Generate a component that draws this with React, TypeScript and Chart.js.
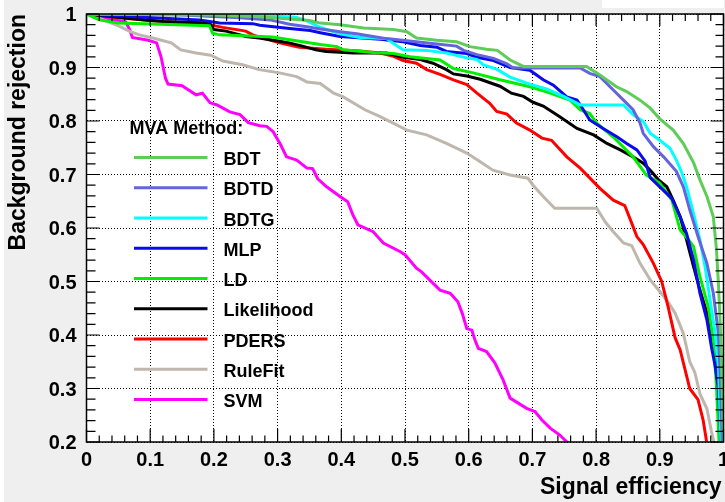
import React, { useEffect, useRef } from "react";
import { Chart, registerables } from "chart.js";

Chart.register(...registerables);

const methods = ["BDT", "BDTD", "BDTG", "MLP", "LD", "Likelihood", "PDERS", "RuleFit", "SVM"];
const colors = ["#5ecd58", "#6464dc", "#00ffff", "#0a0af0", "#00ee00", "#000000", "#ff0000", "#bfb6ae", "#ff00ff"];

// [signal efficiency, background rejection]
const BDT: number[][] = [[0,1],[0.2,0.998],[0.272,0.995],[0.35,0.988],[0.367,0.983],[0.398,0.98],[0.435,0.974],[0.482,0.971],[0.503,0.967],[0.518,0.955],[0.55,0.951],[0.581,0.948],[0.602,0.939],[0.628,0.934],[0.645,0.932],[0.665,0.914],[0.686,0.902],[0.785,0.902],[0.806,0.886],[0.832,0.864],[0.848,0.855],[0.869,0.839],[0.885,0.824],[0.9,0.804],[0.921,0.783],[0.937,0.758],[0.953,0.722],[0.963,0.69],[0.974,0.659],[0.984,0.621],[0.989,0.559],[0.992,0.497],[0.995,0.416],[0.998,0.3],[1,0.2]];
const BDTD: number[][] = [[0,1],[0.15,0.998],[0.241,0.993],[0.288,0.989],[0.319,0.981],[0.346,0.976],[0.367,0.972],[0.398,0.967],[0.424,0.963],[0.445,0.959],[0.471,0.954],[0.503,0.95],[0.55,0.944],[0.581,0.94],[0.592,0.932],[0.613,0.924],[0.639,0.917],[0.66,0.907],[0.67,0.899],[0.775,0.899],[0.79,0.889],[0.806,0.883],[0.827,0.858],[0.843,0.839],[0.858,0.821],[0.869,0.796],[0.874,0.777],[0.89,0.752],[0.906,0.733],[0.926,0.706],[0.937,0.677],[0.947,0.634],[0.96,0.584],[0.974,0.534],[0.984,0.478],[0.992,0.403],[0.995,0.322],[0.998,0.2]];
const BDTG: number[][] = [[0,1],[0.2,1],[0.25,0.998],[0.3,0.996],[0.329,0.994],[0.346,0.987],[0.367,0.975],[0.398,0.963],[0.429,0.956],[0.471,0.954],[0.482,0.945],[0.497,0.933],[0.534,0.932],[0.565,0.927],[0.597,0.918],[0.613,0.915],[0.623,0.905],[0.644,0.897],[0.665,0.882],[0.696,0.869],[0.722,0.86],[0.749,0.846],[0.775,0.83],[0.843,0.83],[0.858,0.812],[0.874,0.799],[0.885,0.777],[0.9,0.764],[0.916,0.749],[0.926,0.727],[0.934,0.705],[0.942,0.677],[0.953,0.627],[0.963,0.578],[0.971,0.528],[0.979,0.465],[0.987,0.403],[0.992,0.341],[0.996,0.2]];
const MLP: number[][] = [[0,1],[0.06,0.996],[0.104,0.993],[0.177,0.989],[0.209,0.983],[0.261,0.982],[0.272,0.979],[0.319,0.973],[0.351,0.969],[0.367,0.965],[0.398,0.958],[0.461,0.953],[0.497,0.948],[0.524,0.941],[0.55,0.938],[0.565,0.93],[0.597,0.926],[0.613,0.919],[0.639,0.913],[0.665,0.9],[0.696,0.895],[0.717,0.877],[0.733,0.867],[0.754,0.845],[0.77,0.839],[0.78,0.821],[0.79,0.802],[0.811,0.786],[0.832,0.771],[0.848,0.758],[0.864,0.746],[0.877,0.725],[0.885,0.694],[0.9,0.677],[0.919,0.655],[0.932,0.621],[0.942,0.59],[0.953,0.54],[0.963,0.478],[0.974,0.428],[0.981,0.378],[0.987,0.341],[0.992,0.3],[0.996,0.2]];
const LD: number[][] = [[0,1],[0.02,0.989],[0.05,0.983],[0.193,0.978],[0.198,0.964],[0.209,0.961],[0.292,0.957],[0.324,0.951],[0.367,0.943],[0.393,0.939],[0.403,0.933],[0.45,0.928],[0.482,0.926],[0.508,0.92],[0.555,0.914],[0.576,0.898],[0.607,0.89],[0.649,0.877],[0.696,0.864],[0.728,0.852],[0.759,0.839],[0.775,0.821],[0.79,0.814],[0.801,0.796],[0.827,0.77],[0.858,0.733],[0.879,0.699],[0.9,0.684],[0.919,0.652],[0.932,0.596],[0.945,0.578],[0.953,0.565],[0.963,0.509],[0.976,0.453],[0.984,0.391],[0.989,0.303],[0.993,0.2]];
const Likelihood: number[][] = [[0,1],[0.05,0.994],[0.093,0.989],[0.12,0.986],[0.193,0.983],[0.2,0.971],[0.219,0.968],[0.25,0.958],[0.271,0.955],[0.303,0.949],[0.318,0.946],[0.339,0.94],[0.36,0.933],[0.376,0.93],[0.419,0.927],[0.471,0.927],[0.497,0.919],[0.524,0.915],[0.544,0.908],[0.565,0.896],[0.576,0.888],[0.597,0.884],[0.618,0.878],[0.649,0.865],[0.667,0.852],[0.686,0.846],[0.701,0.835],[0.717,0.828],[0.743,0.808],[0.77,0.786],[0.796,0.774],[0.817,0.758],[0.838,0.746],[0.858,0.733],[0.874,0.721],[0.885,0.708],[0.898,0.69],[0.911,0.677],[0.921,0.652],[0.932,0.621],[0.942,0.578],[0.953,0.528],[0.963,0.484],[0.974,0.441],[0.981,0.403],[0.987,0.353],[0.992,0.3],[0.996,0.25],[1,0.2]];
const PDERS: number[][] = [[0,1],[0.05,0.993],[0.09,0.989],[0.12,0.986],[0.151,0.983],[0.193,0.98],[0.214,0.975],[0.25,0.968],[0.261,0.961],[0.277,0.955],[0.303,0.946],[0.334,0.938],[0.376,0.934],[0.429,0.931],[0.461,0.927],[0.482,0.921],[0.497,0.913],[0.518,0.908],[0.534,0.896],[0.555,0.887],[0.576,0.877],[0.597,0.868],[0.613,0.852],[0.633,0.833],[0.644,0.818],[0.66,0.813],[0.675,0.796],[0.696,0.783],[0.715,0.768],[0.73,0.764],[0.754,0.733],[0.775,0.712],[0.793,0.69],[0.806,0.674],[0.827,0.652],[0.845,0.642],[0.853,0.618],[0.864,0.584],[0.874,0.569],[0.89,0.534],[0.903,0.5],[0.913,0.453],[0.924,0.395],[0.932,0.372],[0.947,0.3],[0.96,0.279],[0.968,0.241],[0.973,0.204],[0.976,0.18]];
const RuleFit: number[][] = [[0,1],[0.01,0.997],[0.052,0.977],[0.067,0.968],[0.083,0.961],[0.104,0.955],[0.133,0.946],[0.148,0.933],[0.172,0.927],[0.195,0.923],[0.214,0.912],[0.245,0.905],[0.271,0.896],[0.303,0.89],[0.33,0.883],[0.346,0.873],[0.367,0.87],[0.388,0.852],[0.403,0.845],[0.437,0.821],[0.461,0.808],[0.503,0.783],[0.534,0.774],[0.565,0.758],[0.597,0.74],[0.618,0.724],[0.638,0.708],[0.665,0.699],[0.693,0.693],[0.701,0.68],[0.717,0.659],[0.735,0.637],[0.801,0.637],[0.814,0.612],[0.827,0.593],[0.843,0.572],[0.856,0.567],[0.869,0.534],[0.885,0.503],[0.898,0.484],[0.911,0.465],[0.924,0.441],[0.937,0.403],[0.947,0.35],[0.955,0.33],[0.963,0.29],[0.974,0.262],[0.981,0.22],[0.987,0.19]];
const SVM: number[][] = [[0,1],[0.02,0.995],[0.04,0.99],[0.062,0.985],[0.068,0.97],[0.072,0.956],[0.097,0.951],[0.11,0.946],[0.117,0.92],[0.124,0.88],[0.128,0.869],[0.15,0.866],[0.172,0.849],[0.182,0.852],[0.194,0.834],[0.205,0.83],[0.225,0.817],[0.241,0.812],[0.254,0.797],[0.272,0.791],[0.283,0.79],[0.293,0.78],[0.305,0.755],[0.314,0.733],[0.33,0.727],[0.346,0.712],[0.355,0.711],[0.363,0.692],[0.377,0.677],[0.398,0.659],[0.41,0.649],[0.418,0.625],[0.426,0.606],[0.45,0.593],[0.466,0.572],[0.492,0.556],[0.5,0.55],[0.518,0.525],[0.526,0.518],[0.555,0.484],[0.571,0.478],[0.583,0.462],[0.59,0.44],[0.597,0.412],[0.605,0.409],[0.61,0.39],[0.615,0.375],[0.628,0.369],[0.641,0.348],[0.654,0.316],[0.665,0.282],[0.691,0.263],[0.704,0.257],[0.715,0.241],[0.728,0.226],[0.743,0.213],[0.756,0.198],[0.77,0.18]];

const series = [BDT, BDTD, BDTG, MLP, LD, Likelihood, PDERS, RuleFit, SVM];

const xTickValues = [0, 0.1, 0.2, 0.3, 0.4, 0.5, 0.6, 0.7, 0.8, 0.9, 1];
const xTickLabels = ["0", "0.1", "0.2", "0.3", "0.4", "0.5", "0.6", "0.7", "0.8", "0.9", "1"];
const yTickValues = [0.2, 0.3, 0.4, 0.5, 0.6, 0.7, 0.8, 0.9, 1];
const yTickLabels = ["0.2", "0.3", "0.4", "0.5", "0.6", "0.7", "0.8", "0.9", "1"];

const xTitle = "Signal efficiency";
const yTitle = "Background rejection";
const legendHeader = "MVA Method:";

const FONT = "'Liberation Sans', Arial, Helvetica, sans-serif";

const rootStyle = {
  id: "rootStyle",
  beforeDraw(chart: any) {
    const { ctx, chartArea: a, width, height } = chart;
    ctx.save();
    ctx.fillStyle = "#ffffff";
    ctx.fillRect(0, 0, width, height);
    ctx.fillStyle = "#efefef";
    ctx.fillRect(4, 0, width - 4, height);
    ctx.fillStyle = "#ffffff";
    ctx.fillRect(602, 0, width - 603, 8);
    ctx.fillRect(a.left, a.top, a.right - a.left, a.bottom - a.top);
    ctx.restore();
  },
  afterDatasetsDraw(chart: any) {
    const { ctx, chartArea: a } = chart;
    const xs = chart.scales.x;
    const ys = chart.scales.y;
    ctx.save();
    ctx.strokeStyle = "#000";
    ctx.lineWidth = 1.5;
    ctx.strokeRect(a.left, a.top, a.right - a.left, a.bottom - a.top);
    ctx.lineWidth = 1.2;
    ctx.beginPath();
    for (let i = 0; i <= 50; i++) {
      const v = i / 50;
      const px = xs.getPixelForValue(v);
      const major = i % 5 === 0;
      const lb = major ? 13 : 6.5;
      const lt = major ? 12 : 7;
      ctx.moveTo(px, a.bottom);
      ctx.lineTo(px, a.bottom - lb);
      ctx.moveTo(px, a.top);
      ctx.lineTo(px, a.top + lt);
    }
    for (let i = 0; i <= 40; i++) {
      const v = 0.2 + i / 50;
      const py = ys.getPixelForValue(v);
      const major = i % 5 === 0;
      const ll = major ? 13 : 9;
      const lr = major ? 13 : 8;
      ctx.moveTo(a.left, py);
      ctx.lineTo(a.left + ll, py);
      ctx.moveTo(a.right, py);
      ctx.lineTo(a.right - lr, py);
    }
    ctx.stroke();

    ctx.fillStyle = "#000";
    ctx.font = `bold 20px ${FONT}`;
    ctx.textAlign = "center";
    ctx.textBaseline = "alphabetic";
    xTickValues.forEach((v, i) => {
      ctx.fillText(xTickLabels[i], xs.getPixelForValue(v), a.bottom + 24);
    });
    ctx.textAlign = "right";
    yTickValues.forEach((v, i) => {
      ctx.fillText(yTickLabels[i], a.left - 10, ys.getPixelForValue(v) + 7);
    });

    ctx.font = `bold 23px ${FONT}`;
    ctx.textAlign = "right";
    ctx.fillText(xTitle, a.right - 2, a.bottom + 52);
    ctx.save();
    ctx.translate(25, a.top);
    ctx.rotate(-Math.PI / 2);
    ctx.textAlign = "right";
    ctx.fillText(yTitle, 0, 0);
    ctx.restore();

    ctx.font = `bold 18px ${FONT}`;
    ctx.textAlign = "left";
    ctx.fillText(legendHeader, a.left + 43, a.top + 119.5);
    methods.forEach((m, i) => {
      const y = a.top + 143.5 + i * 30.25;
      ctx.strokeStyle = colors[i];
      ctx.lineWidth = 3;
      ctx.beginPath();
      ctx.moveTo(a.left + 47.5, y);
      ctx.lineTo(a.left + 121, y);
      ctx.stroke();
      ctx.fillStyle = "#000";
      ctx.fillText(m, a.left + 137, y + 7.5);
    });
    ctx.restore();
  },
};

export default function App() {
  const ref = useRef<HTMLCanvasElement | null>(null);
  useEffect(() => {
    if (!ref.current) return;
    const chart = new Chart(ref.current, {
      type: "line",
      data: {
        datasets: series.map((s, i) => ({
          label: methods[i],
          data: s.map(([x, y]) => ({ x, y })),
          borderColor: colors[i],
          backgroundColor: colors[i],
          borderWidth: 3,
          pointRadius: 0,
          tension: 0,
          fill: false,
        })),
      },
      options: {
        responsive: false,
        animation: false,
        devicePixelRatio: 1,
        layout: { padding: { left: 0, right: 1.5, top: 14, bottom: 0 } },
        plugins: { legend: { display: false }, tooltip: { enabled: false } },
        scales: {
          x: {
            type: "linear",
            min: 0,
            max: 1,
            ticks: { stepSize: 0.1, display: false },
            grid: { color: "#000", lineWidth: 1, drawTicks: false },
            border: { display: false, dash: [1, 2] },
            afterFit: (s: any) => { s.height = 60; },
          },
          y: {
            type: "linear",
            min: 0.2,
            max: 1,
            ticks: { stepSize: 0.1, display: false },
            grid: { color: "#000", lineWidth: 1, drawTicks: false },
            border: { display: false, dash: [1, 2] },
            afterFit: (s: any) => { s.width = 86.5; },
          },
        },
      } as any,
      plugins: [rootStyle],
    });
    return () => chart.destroy();
  }, []);
  return (
    <div style={{ position: "fixed", left: 0, top: 0, width: 725, height: 502 }}>
      <canvas ref={ref} width={725} height={502} style={{ display: "block" }} />
    </div>
  );
}
